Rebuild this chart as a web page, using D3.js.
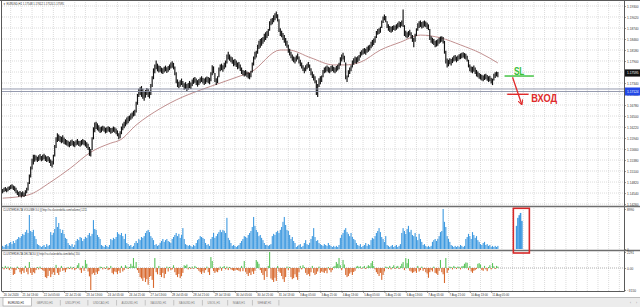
<!DOCTYPE html>
<html>
<head>
<meta charset="utf-8">
<script src="https://d3js.org/d3.v7.min.js"></script>
<style>
  body { margin: 0; background: #fff; }
  svg { display: block; }
</style>
</head>
<body>
<div id="container"></div>
<script>
const width = 640;
const height = 307;

// EURUSD H1 bars (one value per hour)
const highs = [
1.1463,1.1466,1.1468,1.1465,1.1469,1.1470,1.1473,1.1475,1.1472,1.1470,
1.1466,1.1460,1.1456,1.1458,1.1455,1.1457,1.1454,1.1460,1.1466,1.1480,
1.1500,1.1520,1.1540,1.1550,1.1550,1.1548,1.1545,1.1549,1.1552,1.1547,
1.1550,1.1553,1.1549,1.1546,1.1547,1.1544,1.1538,1.1535,1.1550,1.1575,
1.1595,1.1605,1.1602,1.1598,1.1596,1.1600,1.1594,1.1590,1.1588,1.1586,
1.1583,1.1587,1.1589,1.1585,1.1584,1.1587,1.1590,1.1586,1.1585,1.1588,
1.1590,1.1588,1.1586,1.1582,1.1578,1.1570,1.1565,1.1595,1.1620,1.1632,
1.1634,1.1630,1.1625,1.1620,1.1622,1.1624,1.1622,1.1619,1.1620,1.1623,
1.1621,1.1618,1.1619,1.1622,1.1620,1.1617,1.1612,1.1605,1.1610,1.1622,
1.1630,1.1634,1.1640,1.1645,1.1648,1.1650,1.1655,1.1658,1.1662,1.1665,
1.1685,1.1705,1.1718,1.1722,1.1725,1.1718,1.1710,1.1715,1.1720,1.1718,
1.1712,1.1730,1.1750,1.1770,1.1780,1.1790,1.1782,1.1777,1.1776,1.1772,
1.1770,1.1774,1.1777,1.1773,1.1776,1.1780,1.1785,1.1788,1.1784,1.1775,
1.1760,1.1742,1.1736,1.1740,1.1744,1.1738,1.1732,1.1735,1.1730,1.1733,
1.1738,1.1734,1.1742,1.1746,1.1748,1.1744,1.1740,1.1743,1.1747,1.1750,
1.1746,1.1744,1.1747,1.1749,1.1748,1.1746,1.1760,1.1778,1.1775,1.1758,
1.1745,1.1750,1.1772,1.1780,1.1782,1.1778,1.1784,1.1790,1.1805,1.1812,
1.1805,1.1800,1.1798,1.1792,1.1794,1.1790,1.1785,1.1786,1.1780,1.1772,
1.1766,1.1764,1.1766,1.1762,1.1760,1.1758,1.1764,1.1785,1.1800,1.1812,
1.1815,1.1830,1.1840,1.1845,1.1847,1.1850,1.1858,1.1862,1.1865,1.1870,
1.1890,1.1896,1.1898,1.1905,1.1910,1.1915,1.1908,1.1895,1.1872,1.1866,
1.1860,1.1855,1.1847,1.1840,1.1830,1.1820,1.1812,1.1805,1.1800,1.1798,
1.1803,1.1808,1.1800,1.1792,1.1785,1.1778,1.1772,1.1778,1.1782,1.1786,
1.1780,1.1770,1.1762,1.1755,1.1750,1.1740,1.1730,1.1745,1.1750,1.1752,
1.1766,1.1772,1.1775,1.1777,1.1774,1.1772,1.1776,1.1778,1.1774,1.1772,
1.1776,1.1779,1.1784,1.1798,1.1805,1.1810,1.1802,1.1785,1.1752,1.1765,
1.1772,1.1778,1.1790,1.1796,1.1800,1.1798,1.1801,1.1804,1.1812,1.1816,
1.1820,1.1822,1.1820,1.1825,1.1828,1.1830,1.1838,1.1842,1.1846,1.1852,
1.1865,1.1870,1.1872,1.1876,1.1892,1.1902,1.1907,1.1903,1.1890,1.1882,
1.1878,1.1876,1.1878,1.1880,1.1879,1.1882,1.1886,1.1890,1.1888,1.1892,
1.1920,1.1880,1.1866,1.1862,1.1865,1.1868,1.1862,1.1855,1.1848,1.1858,
1.1872,1.1885,1.1890,1.1892,1.1888,1.1890,1.1892,1.1889,1.1886,1.1882,
1.1870,1.1852,1.1848,1.1845,1.1840,1.1842,1.1844,1.1848,1.1851,1.1852,
1.1850,1.1840,1.1815,1.1795,1.1792,1.1796,1.1794,1.1798,1.1802,1.1804,
1.1800,1.1803,1.1806,1.1808,1.1810,1.1811,1.1809,1.1807,1.1802,1.1792,
1.1780,1.1775,1.1774,1.1777,1.1772,1.1766,1.1762,1.1758,1.1756,1.1754,
1.1752,1.1755,1.1756,1.1753,1.1750,1.1751,1.1746,1.1744,1.1756,1.1760,
1.1762,1.1761
];
const lows = [
1.1455,1.1458,1.1460,1.1457,1.1460,1.1463,1.1465,1.1466,1.1463,1.1460,
1.1455,1.1450,1.1446,1.1448,1.1444,1.1447,1.1445,1.1448,1.1455,1.1462,
1.1478,1.1495,1.1515,1.1528,1.1535,1.1538,1.1534,1.1537,1.1540,1.1536,
1.1538,1.1541,1.1537,1.1534,1.1536,1.1532,1.1524,1.1520,1.1528,1.1548,
1.1570,1.1585,1.1588,1.1585,1.1582,1.1584,1.1580,1.1578,1.1576,1.1574,
1.1572,1.1575,1.1577,1.1574,1.1572,1.1576,1.1578,1.1575,1.1573,1.1576,
1.1579,1.1577,1.1574,1.1570,1.1565,1.1550,1.1548,1.1565,1.1592,1.1610,
1.1618,1.1615,1.1612,1.1608,1.1610,1.1614,1.1611,1.1607,1.1609,1.1612,
1.1610,1.1606,1.1608,1.1611,1.1609,1.1605,1.1600,1.1592,1.1595,1.1605,
1.1615,1.1620,1.1625,1.1630,1.1633,1.1638,1.1642,1.1645,1.1650,1.1652,
1.1660,1.1680,1.1700,1.1705,1.1700,1.1695,1.1690,1.1698,1.1705,1.1700,
1.1696,1.1705,1.1725,1.1745,1.1760,1.1770,1.1765,1.1762,1.1764,1.1760,
1.1758,1.1762,1.1765,1.1761,1.1764,1.1768,1.1772,1.1774,1.1770,1.1755,
1.1735,1.1725,1.1722,1.1726,1.1730,1.1725,1.1718,1.1720,1.1715,1.1718,
1.1722,1.1720,1.1728,1.1733,1.1736,1.1730,1.1726,1.1730,1.1735,1.1738,
1.1734,1.1730,1.1733,1.1737,1.1735,1.1732,1.1740,1.1755,1.1760,1.1738,
1.1730,1.1735,1.1750,1.1765,1.1768,1.1764,1.1770,1.1775,1.1785,1.1795,
1.1792,1.1788,1.1784,1.1778,1.1780,1.1776,1.1770,1.1772,1.1766,1.1758,
1.1755,1.1752,1.1754,1.1750,1.1747,1.1745,1.1750,1.1762,1.1780,1.1795,
1.1800,1.1810,1.1822,1.1825,1.1830,1.1835,1.1840,1.1845,1.1850,1.1855,
1.1868,1.1882,1.1885,1.1890,1.1895,1.1900,1.1892,1.1865,1.1855,1.1852,
1.1845,1.1838,1.1830,1.1825,1.1812,1.1805,1.1798,1.1792,1.1788,1.1785,
1.1790,1.1795,1.1785,1.1778,1.1772,1.1766,1.1760,1.1765,1.1770,1.1774,
1.1766,1.1755,1.1748,1.1742,1.1735,1.1705,1.1700,1.1725,1.1732,1.1738,
1.1750,1.1760,1.1762,1.1765,1.1762,1.1760,1.1764,1.1766,1.1762,1.1760,
1.1764,1.1767,1.1770,1.1780,1.1790,1.1795,1.1788,1.1745,1.1738,1.1750,
1.1758,1.1765,1.1775,1.1782,1.1786,1.1784,1.1788,1.1792,1.1800,1.1805,
1.1808,1.1810,1.1807,1.1812,1.1815,1.1818,1.1824,1.1828,1.1832,1.1838,
1.1850,1.1858,1.1860,1.1863,1.1875,1.1888,1.1895,1.1890,1.1875,1.1868,
1.1865,1.1863,1.1866,1.1870,1.1868,1.1871,1.1874,1.1878,1.1876,1.1880,
1.1878,1.1855,1.1852,1.1849,1.1852,1.1856,1.1848,1.1840,1.1826,1.1840,
1.1855,1.1868,1.1875,1.1878,1.1874,1.1876,1.1879,1.1877,1.1873,1.1870,
1.1845,1.1838,1.1835,1.1832,1.1826,1.1828,1.1830,1.1835,1.1838,1.1840,
1.1836,1.1810,1.1785,1.1775,1.1778,1.1783,1.1780,1.1786,1.1790,1.1792,
1.1788,1.1791,1.1795,1.1796,1.1798,1.1800,1.1797,1.1795,1.1790,1.1775,
1.1765,1.1762,1.1760,1.1764,1.1758,1.1752,1.1750,1.1746,1.1744,1.1742,
1.1740,1.1743,1.1745,1.1741,1.1738,1.1740,1.1734,1.1730,1.1742,1.1748,
1.1752,1.1750
];

// moving average, read at sample bars
const maBars = [0,19,36,51,66,81,88,100,118,130,148,163,178,186,208,214,231,248,256,268,283,298,313,328,343,358,371];
const maValues = [1.1441,1.1449,1.1482,1.1518,1.1558,1.1581,1.1589,1.1627,1.1669,1.1691,1.1716,1.1734,1.1752,1.1762,1.1818,1.1818,1.1798,1.1780,1.1780,1.1787,1.1818,1.1838,1.1856,1.1849,1.1831,1.1810,1.1785];

const volumes = [
700,450,900,1100,700,1350,1600,1100,1800,1350,
2000,2250,2700,2500,2900,3400,3150,3800,4300,3600,
7650,4050,3800,4300,2900,2250,1100,900,700,450,
700,900,450,1100,700,900,3800,3150,3600,4500,
7200,4950,5850,4500,3600,4300,3400,2500,2250,1350,
900,700,1100,450,900,1800,2250,2000,2700,2500,
1800,2250,2700,2500,3150,3600,2900,3400,6500,4500,
4300,3150,2700,2250,900,700,450,900,700,450,
900,2250,2000,2500,2250,2700,3800,3400,3150,3600,
2900,2250,3400,1350,1100,700,900,450,700,1350,
1800,1350,2250,2000,2700,2500,2900,3600,4050,4300,
3800,2900,2500,2000,900,1100,700,900,1350,1800,
2250,1600,2000,2250,1800,1600,1350,2250,2700,3150,
3600,2900,3400,2500,3150,4700,2250,1100,900,700,
900,700,450,900,700,1350,2000,2250,2900,2700,
2500,2250,1350,900,1100,700,2250,2700,3600,2500,
2900,3400,3800,4300,3800,4300,4050,3600,7000,2500,
2000,1350,700,900,700,450,700,900,1350,1800,
2250,2900,2700,2500,3150,3600,4050,4950,7200,5200,
4300,3800,2900,3150,2500,2000,1350,900,900,700,
900,1100,2900,3400,3150,3800,4050,3600,4300,4950,
6100,7200,5400,4300,4050,3150,2250,2700,1800,1350,
450,700,900,1100,450,700,1350,2000,1100,900,
1350,2250,2900,4700,2700,1800,2000,1350,1100,900,
700,1100,900,700,1350,900,700,450,700,450,
700,450,900,2500,3150,3600,4300,4700,3800,3400,
2900,3600,2700,2250,2000,1350,900,700,1100,450,
700,900,1350,700,1100,900,2000,2500,2250,2900,
3600,4050,4700,3800,2700,2250,1600,2900,900,700,
450,700,900,450,700,900,450,700,1100,3600,
4700,4050,3400,4500,5200,3800,4300,3150,2900,3600,
2700,2000,3400,2250,1600,900,1100,700,450,700,
450,700,1600,2000,2250,1800,2250,2900,3800,4050,
8990,6100,4950,2900,2250,1600,900,700,450,700,
450,700,450,900,700,450,700,2250,2700,3400,
2900,2250,3800,3150,2500,2900,2000,1600,1100,900,
1350,1600,900,1100,700,900,450,700,450,700,
450,700
];

const deltas = [
150,-200,300,-150,200,-300,150,-200,-1000,-850,
-300,200,-150,-600,-850,-400,-700,300,-550,-900,
860,-700,-1000,-600,-750,-300,150,-200,200,-150,
-300,-450,-1300,-1450,-1150,-400,-1300,-900,-600,-1000,
450,-700,-1000,-550,300,-400,-300,-600,-200,150,
-150,200,-200,150,-300,-150,400,700,-300,-700,
300,-400,1150,600,-500,-1200,-3150,-900,-700,-1000,
-600,-850,-450,200,150,-200,100,-150,250,-300,
-200,300,-700,-900,-500,-600,-850,-400,-700,300,
-500,-300,400,200,-150,150,600,300,1430,200,
860,-300,-700,-1300,-1500,-1850,-1400,-2000,-1600,-2400,
-1300,-1150,-1700,-2850,1430,-600,-900,300,-1000,-1300,
-700,-1450,-850,200,-500,150,-300,-200,400,-600,
-1000,-1300,-850,-1450,-1150,-700,400,300,500,-200,
150,-150,200,-100,300,150,-150,-400,-600,-850,
-500,-700,-300,200,-600,-1000,1570,1000,-450,-700,
-500,-600,-300,200,-400,150,300,-200,200,-300,
150,-200,-300,-400,-350,-250,-300,-400,-500,300,
-450,1000,-550,-850,-1150,-700,-1000,-500,-850,-400,
1150,900,600,-300,-700,-1000,-1700,-450,-1300,300,
2291,-1500,-1700,-2000,-1400,-1850,300,-500,-700,-1150,
-1600,-2000,-1300,200,-300,150,-1300,-1600,-1450,-900,
-1300,-1700,-600,300,-200,400,150,-700,-1000,-850,
-1150,-600,300,-700,-1000,-850,-500,200,-700,-500,
-600,-700,-400,-750,150,-300,-600,-300,200,300,
860,600,1430,400,-300,1150,500,-1000,-1300,-1150,
-800,-600,-1000,-570,-400,200,300,150,250,-100,
150,300,-150,200,400,250,700,1000,300,-200,
-600,-850,-1150,-700,-1700,-1000,-500,200,150,-150,
300,-200,150,400,-150,200,300,-150,250,600,
850,-300,1430,700,1300,-400,-500,-700,-600,-450,
-700,300,-500,-300,200,-400,-150,-600,-800,-1400,
-600,-300,-500,200,-700,-800,-1000,-400,1150,-600,
-900,-2150,1430,-700,-300,200,150,-200,300,150,
-150,200,150,-200,250,300,600,800,750,-300,
300,-500,-700,-400,-300,-150,600,700,500,-300,
-400,300,-200,-450,150,400,-200,700,250,-150,
300,200
];

const priceTicks = [1.19300,1.19020,1.18740,1.18460,1.18180,1.17900,1.17620,1.17340,1.17060,1.16780,
  1.16500,1.16220,1.15940,1.15660,1.15380,1.15100,1.14820,1.14540,1.14260];
const timeBars = [0,14,30,46,62,78,94,110,126,142,158,174,190,206,222,238,254,270,286,302,318,334,350,366];
const timeLabels = ["20 Jul 2020","21 Jul 13:00","22 Jul 05:00","22 Jul 21:00","23 Jul 13:00","24 Jul 05:00",
  "24 Jul 21:00","27 Jul 13:00","28 Jul 05:00","28 Jul 21:00","29 Jul 13:00","30 Jul 05:00","30 Jul 21:00",
  "31 Jul 13:00","3 Aug 05:00","3 Aug 21:00","4 Aug 13:00","5 Aug 05:00","5 Aug 21:00","6 Aug 13:00",
  "7 Aug 05:00","7 Aug 21:00","10 Aug 13:00","11 Aug 05:00"];

const hLevels = [1.17188, 1.17124];
const bidPrice = 1.17595;
const tabs = ["EURUSD,H1","GBPUSD,H1","USDJPY,H1","USDCAD,H1","AUDUSD,H1","XAUUSD,H1","XAGUSD,H1","USOIL,H1","NGAS,H1","WHEAT,H1"];

// hand drawn trade marks
const slLevel = 1.17518;
const entryLevel = 1.17053;
const arrowFrom = [382, 1.17486];
const arrowTo = [388.8, 1.16806];
const boxBars = [382.6, 394.6];
const boxVol = [-900, 9150];
const annotBars = [385, 386, 387, 388, 389];
const annotVols = [5200, 7000, 7600, 8100, 6300];

const font = "'Liberation Sans', Arial, sans-serif";
const svg = d3.select("div#container").append("svg")
    .attr("width", width)
    .attr("height", height)
    .attr("font-family", font);

svg.append("rect").attr("width", width).attr("height", height).attr("fill", "#fff");

const x = d3.scaleLinear().domain([-0.5, 465.5]).range([2, 624]);
const yPrice = d3.scaleLinear().domain([1.14210, 1.19402]).range([206, 2]);
const yVol = d3.scaleLinear().domain([0, d3.max(volumes)]).range([249, 209]);
const dExt = d3.extent(deltas);
const yDelta = d3.scaleLinear().domain(dExt).range([290, 252]);

// grid
const grid = svg.append("g")
    .attr("stroke", "#cdcdcd")
    .attr("stroke-width", 0.7)
    .attr("stroke-dasharray", "1,1");
grid.selectAll(".gv").data(d3.range(6, 466, 8)).join("line").attr("class", "gv")
    .attr("x1", d => x(d)).attr("x2", d => x(d))
    .attr("y1", 2).attr("y2", 291);
grid.selectAll(".gh").data(priceTicks).join("line").attr("class", "gh")
    .attr("x1", 2).attr("x2", 624)
    .attr("y1", d => yPrice(d)).attr("y2", d => yPrice(d));

// delta zero level
svg.append("line")
    .attr("x1", 2).attr("x2", 624)
    .attr("y1", yDelta(0)).attr("y2", yDelta(0))
    .attr("stroke", "#8a8a8a").attr("stroke-width", 0.7).attr("stroke-dasharray", "1,1");

// moving average
const maLine = d3.line()
    .x(d => x(d[0]))
    .y(d => yPrice(d[1]))
    .curve(d3.curveMonotoneX);
svg.append("path")
    .datum(maBars.map((b, i) => [b, maValues[i]]))
    .attr("d", maLine)
    .attr("fill", "none")
    .attr("stroke", "#b98282")
    .attr("stroke-width", 0.9);

// bars
svg.append("g")
    .attr("stroke", "#111")
    .attr("stroke-width", 1.15)
    .selectAll("line").data(highs).join("line")
    .attr("x1", (d, i) => x(i)).attr("x2", (d, i) => x(i))
    .attr("y1", d => yPrice(d) - 0.5)
    .attr("y2", (d, i) => yPrice(lows[i]) + 0.5);

// horizontal levels
svg.append("g").selectAll("line").data(hLevels).join("line")
    .attr("x1", 2).attr("x2", 624)
    .attr("y1", d => yPrice(d)).attr("y2", d => yPrice(d))
    .attr("stroke", "#8a90a6").attr("stroke-width", 0.9);

// volume
svg.append("g").attr("fill", "#3f9ae0")
    .selectAll("rect").data(volumes).join("rect")
    .attr("x", (d, i) => x(i) - 0.55)
    .attr("width", 1.1)
    .attr("y", d => yVol(d))
    .attr("height", d => yVol(0) - yVol(d));

// delta
svg.append("g")
    .selectAll("rect").data(deltas).join("rect")
    .attr("x", (d, i) => x(i) - 0.55)
    .attr("width", 1.1)
    .attr("y", d => yDelta(Math.max(0, d)))
    .attr("height", d => Math.abs(yDelta(d) - yDelta(0)))
    .attr("fill", d => d >= 0 ? "#5cc35c" : "#d8692e");

// frame and separators
const frame = svg.append("g").attr("stroke", "#5a5a5a");
frame.append("line").attr("x1", 0).attr("x2", 640).attr("y1", 0.5).attr("y2", 0.5);
frame.append("line").attr("x1", 1.5).attr("x2", 1.5).attr("y1", 0).attr("y2", 291);
frame.append("line").attr("x1", 624.5).attr("x2", 624.5).attr("y1", 0).attr("y2", 291.5);
frame.append("line").attr("x1", 1.5).attr("x2", 624.5).attr("y1", 291.5).attr("y2", 291.5);
frame.append("line").attr("x1", 1.5).attr("x2", 640).attr("y1", 206.5).attr("y2", 206.5)
    .attr("stroke", "#6e6e6e").attr("stroke-width", 1.6);
frame.append("line").attr("x1", 1.5).attr("x2", 640).attr("y1", 250.5).attr("y2", 250.5)
    .attr("stroke", "#6e6e6e").attr("stroke-width", 1.6);

function styleAxis(g, size) {
  g.attr("font-size", size).attr("font-family", font);
  g.select(".domain").remove();
  g.selectAll("line").attr("stroke", "#555").attr("stroke-width", 0.6);
  g.selectAll("text").attr("fill", "#333");
}

// price axis
svg.append("g")
    .attr("transform", "translate(624.5,0)")
    .call(d3.axisRight(yPrice).tickValues(priceTicks).tickFormat(d3.format(".5f")).tickSize(1.5).tickPadding(1))
    .call(g => styleAxis(g, 3.2));

// volume and delta axes
svg.append("g")
    .attr("transform", "translate(624.5,0)")
    .call(d3.axisRight(yVol).tickValues([0, d3.max(volumes)]).tickFormat(d3.format("d")).tickSize(1.5).tickPadding(1))
    .call(g => styleAxis(g, 3.2));
svg.append("g")
    .attr("transform", "translate(624.5,0)")
    .call(d3.axisRight(yDelta).tickValues([dExt[0], 0, dExt[1]]).tickFormat(d => d === 0 ? "0.00" : d3.format("d")(d)).tickSize(1.5).tickPadding(1))
    .call(g => styleAxis(g, 3.2));

// time axis
svg.append("g")
    .attr("transform", "translate(0,291.5)")
    .call(d3.axisBottom(x).tickValues(timeBars).tickFormat((d, i) => timeLabels[i]).tickSize(1.5).tickPadding(1))
    .call(g => styleAxis(g, 2.9))
    .call(g => g.selectAll("text").attr("text-anchor", "start").attr("dx", "0.6"));

// price tags on the scale
const bidY = yPrice(bidPrice);
svg.append("rect").attr("x", 625).attr("y", bidY - 3.6).attr("width", 15).attr("height", 7.2).attr("fill", "#111");
svg.append("text").attr("x", 627).attr("y", bidY + 1.1).attr("font-size", 3.2).attr("fill", "#fff")
    .text(d3.format(".5f")(bidPrice));
const lvY = yPrice(hLevels[1]);
svg.append("rect").attr("x", 625).attr("y", lvY - 4).attr("width", 15).attr("height", 8).attr("fill", "#2348e6");
svg.append("text").attr("x", 627).attr("y", lvY + 1.1).attr("font-size", 3.2).attr("fill", "#fff")
    .text(d3.format(".5f")(hLevels[1]));

// panel titles
svg.append("text").attr("x", 3).attr("y", 4.6).attr("font-size", 2.7).attr("fill", "#333")
    .text("\u25BC EURUSD,H1  1.17548 1.17612 1.17520 1.17595");
svg.append("text").attr("x", 3).attr("y", 211.4).attr("font-size", 2.6).attr("fill", "#333")
    .text("CLUSTERDELTA VOLUME 3.0 [i] http://ru.clusterdelta.com/volume| 1211");
svg.append("text").attr("x", 3).attr("y", 255.4).attr("font-size", 2.6).attr("fill", "#333")
    .text("CLUSTERDELTA DELTA 3.0 [i] http://ru.clusterdelta.com/delta| 150");

// trade marks
svg.append("line")
    .attr("x1", x(376)).attr("x2", x(398))
    .attr("y1", yPrice(slLevel)).attr("y2", yPrice(slLevel))
    .attr("stroke", "#38c038").attr("stroke-width", 1.4);
svg.append("text")
    .attr("x", x(383)).attr("y", yPrice(slLevel) - 1)
    .attr("font-size", 11).attr("font-weight", "bold").attr("fill", "#38c038")
    .attr("textLength", 10.5).attr("lengthAdjust", "spacingAndGlyphs")
    .text("SL");
svg.append("line")
    .attr("x1", x(378)).attr("x2", x(394))
    .attr("y1", yPrice(entryLevel)).attr("y2", yPrice(entryLevel))
    .attr("stroke", "#e02a2a").attr("stroke-width", 1.4);
svg.append("text")
    .attr("x", x(396)).attr("y", yPrice(entryLevel) + 8)
    .attr("font-size", 10.5).attr("font-weight", "bold").attr("fill", "#e02a2a")
    .attr("textLength", 26).attr("lengthAdjust", "spacingAndGlyphs")
    .text("ВХОД");

svg.append("defs").append("marker")
    .attr("id", "head").attr("viewBox", "0 0 10 10")
    .attr("refX", 8).attr("refY", 5)
    .attr("markerWidth", 4).attr("markerHeight", 4)
    .attr("orient", "auto")
    .append("path").attr("d", "M0,0L10,5L0,10").attr("fill", "none").attr("stroke", "#e02a2a").attr("stroke-width", 2);
svg.append("line")
    .attr("x1", x(arrowFrom[0])).attr("y1", yPrice(arrowFrom[1]))
    .attr("x2", x(arrowTo[0])).attr("y2", yPrice(arrowTo[1]))
    .attr("stroke", "#e02a2a").attr("stroke-width", 1.3)
    .attr("marker-end", "url(#head)");

// volume spike callout
svg.append("g").attr("fill", "#3f9ae0")
    .selectAll("rect").data(annotVols).join("rect")
    .attr("x", (d, i) => x(annotBars[i]) - 0.75)
    .attr("width", 1.5)
    .attr("y", d => yVol(d))
    .attr("height", d => yVol(0) - yVol(d));
svg.append("rect")
    .attr("x", x(boxBars[0])).attr("width", x(boxBars[1]) - x(boxBars[0]))
    .attr("y", yVol(boxVol[1])).attr("height", yVol(boxVol[0]) - yVol(boxVol[1]))
    .attr("fill", "none").attr("stroke", "#d62828").attr("stroke-width", 1.6);

// tab bar
const tabBar = svg.append("g");
tabBar.append("rect").attr("x", 0).attr("y", 297).attr("width", width).attr("height", 10).attr("fill", "#ececec");
tabBar.append("line").attr("x1", 0).attr("x2", width).attr("y1", 297.5).attr("y2", 297.5).attr("stroke", "#bcbcbc");
let cx = 3;
tabs.forEach((t, i) => {
  const label = tabBar.append("text")
      .attr("x", cx + 5).attr("y", 304)
      .attr("font-size", 2.8)
      .attr("fill", i === 0 ? "#222" : "#7a7a7a")
      .text(t);
  const w = label.node().getComputedTextLength() + 12.5;
  if (i === 0) {
    tabBar.insert("rect", "text")
        .attr("x", cx).attr("y", 297.5).attr("width", w).attr("height", 8.5)
        .attr("fill", "#fff").attr("stroke", "#9a9a9a").attr("stroke-width", 0.6);
  } else {
    tabBar.append("line")
        .attr("x1", cx + w).attr("x2", cx + w).attr("y1", 300).attr("y2", 305.5)
        .attr("stroke", "#a8a8a8").attr("stroke-width", 0.6);
  }
  cx += w;
});
tabBar.append("text").attr("x", 630).attr("y", 304).attr("font-size", 3.2).attr("fill", "#888").text("\u2039");
tabBar.append("text").attr("x", 636).attr("y", 304).attr("font-size", 3.2).attr("fill", "#888").text("\u203A");
</script>
</body>
</html>
